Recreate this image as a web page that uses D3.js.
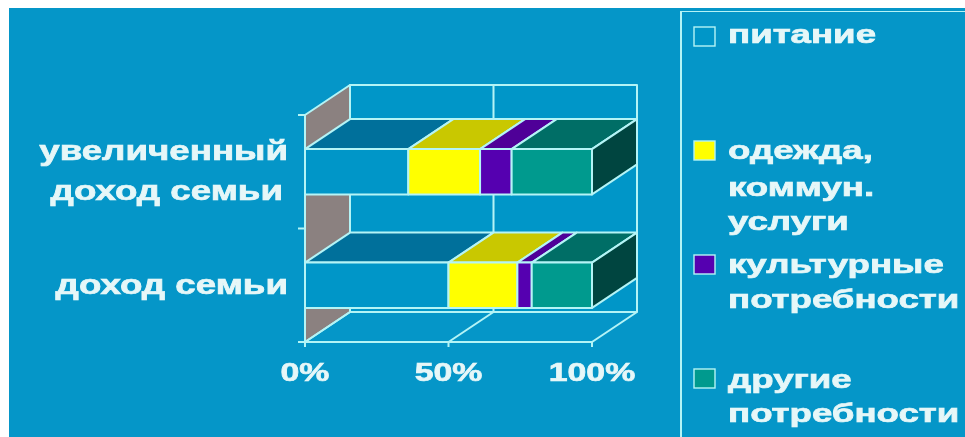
<!DOCTYPE html>
<html><head><meta charset="utf-8">
<script src="https://cdn.jsdelivr.net/npm/d3@7"></script>
<style>html,body{margin:0;padding:0;background:#fff;overflow:hidden}svg{display:block}
text{font-family:"Liberation Sans",Arial,sans-serif;font-weight:bold;fill:#e6f7f8;stroke:#e6f7f8;stroke-width:.7px}</style>
</head><body><svg id="c" width="965" height="437"><defs><filter id="soft" x="0" y="0" width="100%" height="100%"><feGaussianBlur stdDeviation="0.55"/></filter></defs></svg>
<script>
const categories = ["увеличенный доход семьи", "доход семьи"];
const categoryLines = [["увеличенный", "доход семьи"], ["доход семьи"]];
const seriesNames = ["питание", "одежда, коммун. услуги", "культурные потребности", "другие потребности"];
const food = [36, 50];
const clothing = [25, 24];
const culture = [11, 5];
const other = [28, 21];
const tickValues = [0, 50, 100];
const legendLines = [["питание"], ["одежда,", "коммун.", "услуги"], ["культурные", "потребности"], ["другие", "потребности"]];
const frontColors = ["#0596c8", "#ffff00", "#5500b0", "#009a8e"];
const topColors = ["#046f9b", "#c9c800", "#4f0098", "#006e66"];
const sideColors = ["#04506f", "#808000", "#33006a", "#00453f"];

const BG = "#0596c8", LINE = "#b4f4f6", WALL = "#8b8180";
const DX = 45, DY = -30;
const root = d3.select("#c");
root.append("rect").attr("x", 9).attr("y", 8).attr("width", 956).attr("height", 429).attr("fill", BG);
const svg = root.append("g").attr("filter", "url(#soft)");

const x = d3.scaleLinear().domain([0, 100]).range([305, 592]);
const y = d3.scaleBand().domain(categories).range([115, 342]).paddingInner(0.6).paddingOuter(0.3);
const series = [food, clothing, culture, other];
const stacked = categories.map((c, i) => {
  let acc = 0;
  return series.map((s, k) => { const r = { cat: c, k, a: acc, b: acc + s[i] }; acc = r.b; return r; });
});
const [y0, y1] = y.range();
const x0 = x(0), x1 = x(100);
const poly = (pts, fill) => svg.append("polygon").attr("points", pts.map(p => p.join(",")).join(" "))
  .attr("fill", fill).attr("stroke", LINE).attr("stroke-width", 2).attr("stroke-linejoin", "round");
const line = (a, b, w = 2) => svg.append("line").attr("x1", a[0]).attr("y1", a[1]).attr("x2", b[0]).attr("y2", b[1])
  .attr("stroke", LINE).attr("stroke-width", w);

// walls
poly([[x0, y0], [x0 + DX, y0 + DY], [x0 + DX, y1 + DY], [x0, y1]], WALL);
poly([[x0 + DX, y0 + DY], [x1 + DX, y0 + DY], [x1 + DX, y1 + DY], [x0 + DX, y1 + DY]], BG);
tickValues.forEach(t => {
  line([x(t) + DX, y0 + DY], [x(t) + DX, y1 + DY]);
  line([x(t) + DX, y1 + DY], [x(t), y1]);
  line([x(t), y1], [x(t), y1 + 5]);
});
line([x0, y1], [x1, y1]);
[y0, (y0 + y1) / 2, y1].forEach(v => line([x0 - 7, v], [x0, v]));

// bars
stacked.forEach(row => {
  const t = y(row[0].cat), b = t + y.bandwidth();
  row.forEach(d => poly([[x(d.a), t], [x(d.a) + DX, t + DY], [x(d.b) + DX, t + DY], [x(d.b), t]], topColors[d.k]));
  const last = row[row.length - 1];
  poly([[x(last.b), t], [x(last.b) + DX, t + DY], [x(last.b) + DX, b + DY], [x(last.b), b]], sideColors[last.k]);
  row.forEach(d => poly([[x(d.a), t], [x(d.b), t], [x(d.b), b], [x(d.a), b]], frontColors[d.k]));
});

// text helper: wide bold face
const wide = (str, px, py, size, sx, anchor) => svg.append("text")
  .attr("transform", `translate(${px},${py}) scale(${sx},1)`)
  .attr("font-size", size).attr("text-anchor", anchor).text(str);

// category labels
const labelPos = [[[288, 160], [283, 200]], [[288, 294]]];
categoryLines.forEach((ls, i) => ls.forEach((s, j) => wide(s, labelPos[i][j][0], labelPos[i][j][1], 27, 1.36, "end")));

// value labels
tickValues.forEach(t => wide(t + "%", x(t), 381, 26, 1.3, "middle"));

// legend
line([681, 11], [965, 11]);
line([681, 11], [681, 437]);
const swatchY = [27, 141, 255, 369];
const legendBase = [[43], [159, 196, 230], [273, 308], [388, 422]];
legendLines.forEach((ls, i) => {
  svg.append("rect").attr("x", 694).attr("y", swatchY[i]).attr("width", 21).attr("height", 19)
    .attr("fill", frontColors[i]).attr("stroke", LINE).attr("stroke-width", 1.4);
  ls.forEach((s, j) => wide(s, 728, legendBase[i][j], 26, 1.41, "start"));
});
</script></body></html>
